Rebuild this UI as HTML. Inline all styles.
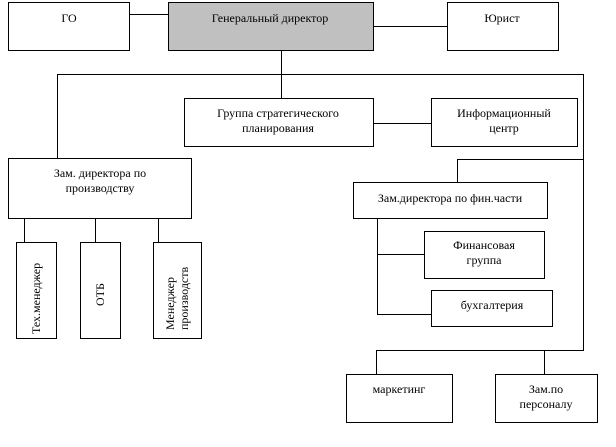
<!DOCTYPE html>
<html><head><meta charset="utf-8"><style>
body{margin:0;background:#fff;font-family:"Liberation Serif","DejaVu Serif",serif}
svg{display:block}
</style></head><body>
<svg width="616" height="447" viewBox="0 0 616 447" xmlns="http://www.w3.org/2000/svg">
<g fill="#fff" stroke="#000" stroke-width="1">
<rect x="8.5" y="2.5" width="121" height="48"/>
<rect x="168.5" y="2.5" width="205" height="48" fill="#c0c0c0"/>
<rect x="447.5" y="2.5" width="111" height="48"/>
<rect x="184.5" y="98.5" width="189" height="48"/>
<rect x="431.5" y="98.5" width="146" height="48"/>
<rect x="8.5" y="158.5" width="183" height="60"/>
<rect x="353.5" y="182.5" width="194" height="36"/>
<rect x="16.5" y="242.5" width="40" height="96"/>
<rect x="80.5" y="242.5" width="40" height="96"/>
<rect x="153.5" y="242.5" width="48" height="96"/>
<rect x="424.5" y="231.5" width="120" height="47"/>
<rect x="431.5" y="290.5" width="121" height="36"/>
<rect x="346.5" y="374.5" width="106" height="48"/>
<rect x="495.5" y="374.5" width="102" height="48"/>
</g>
<g fill="none" stroke="#000" stroke-width="1">
<path d="M129.5 14.5H168.5"/>
<path d="M373.5 26.5H447.5"/>
<path d="M281.5 50.5V98.5"/>
<path d="M57.5 158.5V74.5H583.5V350.5H376.5V374.5"/>
<path d="M373.5 123.5H431.5"/>
<path d="M583.5 159.5H457.5V182.5"/>
<path d="M24.5 218.5V242.5M95.5 218.5V242.5M158.5 218.5V242.5"/>
<path d="M377.5 218.5V314.5H431.5M377.5 254.5H424.5"/>
<path d="M544.5 350.5V374.5"/>
</g>
<g style="font-family:'Liberation Serif','DejaVu Serif',serif;font-size:12px" fill="#000">
<text x="69" y="22" text-anchor="middle">ГО</text>
<text x="270" y="22" text-anchor="middle">Генеральный директор</text>
<text x="502" y="22" text-anchor="middle">Юрист</text>
<text x="278" y="117" text-anchor="middle">Группа стратегического</text>
<text x="278" y="132" text-anchor="middle">планирования</text>
<text x="504" y="117" text-anchor="middle">Информационный</text>
<text x="504" y="132" text-anchor="middle">центр</text>
<text x="100" y="177" text-anchor="middle">Зам. директора по</text>
<text x="100" y="192" text-anchor="middle">производству</text>
<text x="450" y="202" text-anchor="middle">Зам.директора по фин.части</text>
<text x="484" y="249" text-anchor="middle">Финансовая</text>
<text x="484" y="264" text-anchor="middle">группа</text>
<text x="492" y="309" text-anchor="middle">бухгалтерия</text>
<text x="399" y="393" text-anchor="middle">маркетинг</text>
<text x="546" y="393" text-anchor="middle">Зам.по</text>
<text x="546" y="408" text-anchor="middle">персоналу</text>
<text transform="translate(40 334) rotate(-90)">Тех.менеджер</text>
<text transform="translate(104 306) rotate(-90)">ОТБ</text>
<text transform="translate(174 330) rotate(-90)">Менеджер</text>
<text transform="translate(188 330) rotate(-90)">производств</text>
</g>
</svg>
</body></html>
